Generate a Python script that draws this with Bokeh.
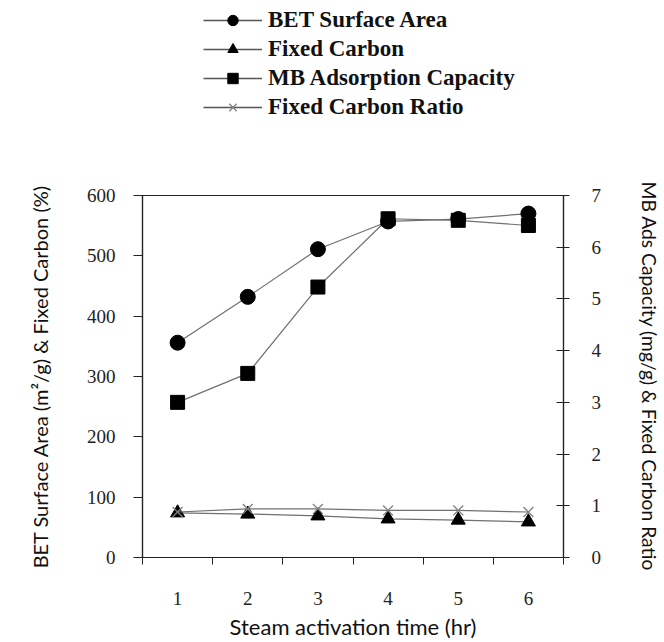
from bokeh.plotting import figure
from bokeh.layouts import column
from bokeh.models import Range1d, LinearAxis, FixedTicker, Legend, LegendItem
from bokeh.embed import file_html
from bokeh.resources import INLINE

# ---- data ----
hours = [1, 2, 3, 4, 5, 6]
bet_area = [356, 432, 511, 557, 561, 570]          # left axis, m2/g
fixed_carbon = [74, 72, 69, 64, 62, 59]            # left axis, %
mb_capacity = [3.0, 3.56, 5.23, 6.55, 6.52, 6.42]  # right axis, mg/g
fc_ratio = [0.88, 0.94, 0.94, 0.91, 0.91, 0.88]    # right axis
left_ticks = [0, 100, 200, 300, 400, 500, 600]
right_ticks = [0, 1, 2, 3, 4, 5, 6, 7]
x_ticks = [1, 2, 3, 4, 5, 6]
x_bounds = [0.5, 1.5, 2.5, 3.5, 4.5, 5.5, 6.5]
series_names = ["BET Surface Area", "Fixed Carbon", "MB Adsorption Capacity", "Fixed Carbon Ratio"]
series_values = [bet_area, fixed_carbon, mb_capacity, fc_ratio]

SERIF = "Liberation Serif"
SANS = "Lato"
LINE = "#707070"
BL, BR = 142, 95

# ---------------- main chart ----------------
p = figure(width=664, height=492, output_backend="svg", toolbar_location=None,
           x_range=Range1d(0.5, 6.5), y_range=Range1d(0, 600),
           x_axis_type=None, y_axis_type=None,
           min_border_left=BL, min_border_right=BR,
           min_border_top=45, min_border_bottom=84)
p.extra_y_ranges = {"right": Range1d(0, 7)}
p.background_fill_color = "white"
p.border_fill_color = "white"
p.outline_line_color = "#222222"
p.outline_line_width = 1.2

xax = LinearAxis(ticker=FixedTicker(ticks=x_ticks, minor_ticks=x_bounds),
                 axis_label="Steam activation time (hr)")
xax.major_tick_out = 0
xax.major_tick_in = 0
xax.minor_tick_out = 7
xax.minor_tick_in = 0
xax.major_label_standoff = 27
xax.axis_label_standoff = 5
p.add_layout(xax, "below")

yax = LinearAxis(ticker=FixedTicker(ticks=left_ticks),
                 axis_label="BET Surface Area (m²/g) & Fixed Carbon (%)")
yax.major_tick_out = 9
yax.major_tick_in = 0
yax.minor_tick_out = 0
yax.minor_tick_in = 0
yax.major_label_standoff = 18
yax.axis_label_standoff = 32
p.add_layout(yax, "left")

rax = LinearAxis(y_range_name="right", ticker=FixedTicker(ticks=right_ticks),
                 axis_label="MB Ads Capacity (mg/g) & Fixed Carbon Ratio")
rax.major_tick_out = 6
rax.major_tick_in = 7
rax.minor_tick_out = 0
rax.minor_tick_in = 0
rax.major_label_standoff = 22
rax.axis_label_standoff = 34
p.add_layout(rax, "right")

for ax in (xax, yax, rax):
    ax.axis_line_color = "#222222"
    ax.axis_line_width = 1.2
    ax.major_tick_line_color = "#222222"
    ax.minor_tick_line_color = "#222222"
    ax.major_label_text_font = SERIF
    ax.major_label_text_font_size = "19px"
    ax.major_label_text_color = "#222222"
    ax.axis_label_text_font = SANS
    ax.axis_label_text_font_style = "normal"
    ax.axis_label_text_color = "#111111"
xax.axis_label_text_font_size = "22px"
yax.axis_label_text_font_size = "20px"
rax.axis_label_text_font_size = "19.3px"

p.xgrid.visible = False
p.ygrid.ticker = FixedTicker(ticks=left_ticks)
p.ygrid.grid_line_color = "#333333"
p.ygrid.grid_line_width = 1.2

p.line(hours, bet_area, line_color=LINE, line_width=1.2)
p.scatter(hours, bet_area, marker="circle", size=15, fill_color="black", line_color="black")
p.line(hours, fixed_carbon, line_color=LINE, line_width=1.2)
p.scatter(hours, fixed_carbon, marker="triangle", size=14, fill_color="black", line_color="black")
p.line(hours, mb_capacity, line_color=LINE, line_width=1.2, y_range_name="right")
p.scatter(hours, mb_capacity, marker="square", size=14, fill_color="black", line_color="black",
          y_range_name="right")
p.line(hours, fc_ratio, line_color=LINE, line_width=1.2, y_range_name="right")
p.scatter(hours, fc_ratio, marker="x", size=14, line_color="#808080", line_width=1.3,
          y_range_name="right")

# ---------------- legend strip (same series, kept out of its view) ----------------
lg = figure(width=664, height=150, output_backend="svg", toolbar_location=None,
            x_range=Range1d(100, 101), y_range=Range1d(-1000, -999),
            x_axis_type=None, y_axis_type=None,
            min_border_left=BL, min_border_right=BR, min_border_top=0, min_border_bottom=0)
lg.outline_line_color = None
lg.xgrid.visible = False
lg.ygrid.visible = False
lg.background_fill_color = "white"
lg.border_fill_color = "white"

specs = [("circle", "black", 1.0), ("triangle", "black", 1.0),
         ("square", "black", 1.0), ("x", "#808080", 1.3)]
items = []
for name, vals, (mk, col, lw) in zip(series_names, series_values, specs):
    rl = lg.line(hours, vals, line_color="#555555", line_width=1.3)
    rs = lg.scatter(hours, vals, marker=mk, size=11, fill_color="black", line_color=col, line_width=lw)
    items.append(LegendItem(label=name, renderers=[rl, rs]))

legend = Legend(items=items, location=(203 - BL, 30))
legend.margin = 0
legend.padding = 0
legend.border_line_alpha = 0
legend.background_fill_alpha = 0
legend.glyph_width = 59
legend.glyph_height = 26
legend.label_height = 26
legend.spacing = 3
legend.label_standoff = 6
legend.label_text_font = SERIF
legend.label_text_font_style = "bold"
legend.label_text_font_size = "23px"
legend.label_text_color = "#111111"
lg.add_layout(legend, "center")

layout = column(lg, p, spacing=0)
open("out.html", "w").write(file_html(layout, INLINE))
